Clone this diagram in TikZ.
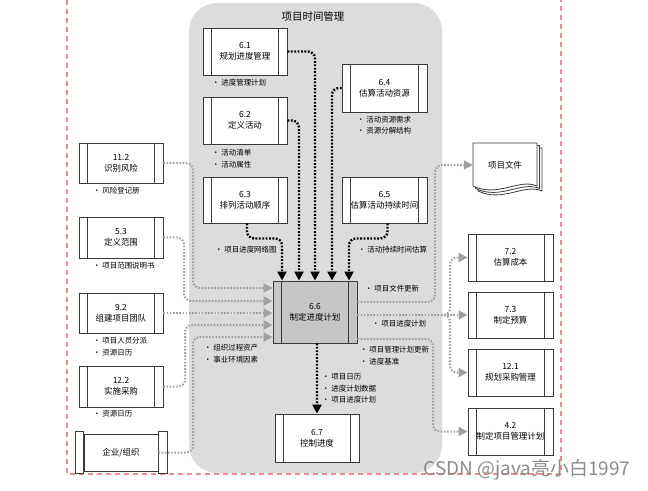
\documentclass[tikz,border=0pt]{standalone}
\usepackage{fontspec}
\newfontfamily\cjk{Noto Sans CJK SC}
\usetikzlibrary{arrows.meta,calc}
\definecolor{boxc}{HTML}{3A3A3A}
\definecolor{panel}{HTML}{DCDCDC}
\definecolor{hub}{HTML}{C6C6C6}
\definecolor{conn}{HTML}{A0A0A0}
\definecolor{frame}{HTML}{F08A8A}
\definecolor{wm}{HTML}{8C8C8C}
\begin{document}
\begin{tikzpicture}[x=1bp,y=-1bp,
  procbox/.style={draw=boxc, line width=0.9bp, fill=white, minimum width=84bp, minimum height=47bp,
    inner sep=0pt, align=center, font=\cjk\fontsize{8.5}{11}\selectfont,
    path picture={\draw[boxc,line width=0.9bp]
      ([xshift=8.5bp]path picture bounding box.north west) -- ([xshift=8.5bp]path picture bounding box.south west)
      ([xshift=-8.5bp]path picture bounding box.north east) -- ([xshift=-8.5bp]path picture bounding box.south east);}},
  lbl/.style={font=\cjk\fontsize{7.5}{11.5}\selectfont, anchor=west, align=left, inner sep=0pt},
  gry/.style={draw=conn, line width=2bp, dash pattern=on 1.6bp off 1.6bp, rounded corners=7bp,
    -{Triangle[length=9bp,width=9bp,fill=conn,color=conn]}},
  blk/.style={draw=black, line width=2.4bp, dash pattern=on 1.8bp off 1.6bp, rounded corners=7bp,
    -{Triangle[length=9bp,width=9bp]}}
]
\useasboundingbox (0,0) rectangle (648,491);
\fill[white] (0,0) rectangle (648,491);
% panel
\fill[panel,rounded corners=28bp] (189,3) rectangle (442,473);
\node[font=\cjk\fontsize{10.5}{12}\selectfont] (title) at (313,17) {项目时间管理};
% frame
\draw[frame, line width=1.3bp, dash pattern=on 5bp off 4bp] (67,0) -- (67,474) -- (561,474) -- (561,0);

% inner processes
\node[procbox] (n61) at (245,51.5) {6.1\\规划进度管理};
\node[procbox] (n62) at (245,120.5) {6.2\\定义活动};
\node[procbox, minimum height=46bp] (n63) at (245,200) {6.3\\排列活动顺序};
\node[procbox, minimum width=85bp, minimum height=48bp] (n64) at (384.5,88) {6.4\\估算活动资源};
\node[procbox, minimum width=85bp, minimum height=46bp] (n65) at (384.5,200) {6.5\\估算活动持续时间};
\node[procbox, fill=hub, minimum height=62bp] (n66) at (315,312) {6.6\\制定进度计划};
\node[procbox, minimum height=48bp] (n67) at (317,438) {6.7\\控制进度};

% left processes
\node[procbox, minimum height=40bp] (n112) at (121,163) {11.2\\识别风险};
\node[procbox, minimum height=41bp] (n53) at (121,237.5) {5.3\\定义范围};
\node[procbox, minimum height=40bp] (n92) at (121,313) {9.2\\组建项目团队};
\node[procbox, minimum height=41bp] (n122) at (121,386.5) {12.2\\实施采购};
% enterprise
\node[draw=boxc, line width=0.9bp, fill=white, minimum width=74bp, minimum height=37bp, inner sep=0pt,
  font=\cjk\fontsize{8.5}{11}\selectfont] (org) at (121,452.5) {企业/组织};
\draw[boxc, line width=0.9bp, fill=white] ($(org.north west)+(-8,-2)$) rectangle ($(org.south west)+(0,2)$);
\draw[boxc, line width=0.9bp, fill=white] ($(org.north east)+(0,-2)$) rectangle ($(org.south east)+(9,2)$);

% right processes
\node[procbox, minimum width=85bp] (n72) at (510.5,257.5) {7.2\\估算成本};
\node[procbox, minimum width=85bp, minimum height=46bp] (n73) at (510.5,315) {7.3\\制定预算};
\node[procbox, minimum width=85bp] (n121) at (510.5,372.5) {12.1\\规划采购管理};
\node[procbox, minimum width=85bp] (n42) at (510.5,431.5) {4.2\\制定项目管理计划};

% documents
\foreach \d in {5,2.5,0}
  \draw[boxc, line width=0.8bp, fill=white] ($(473,143)+(\d,\d)$) -- ++(64,0) -- ++(0,43)
    .. controls +(-18,-8) and +(25,12) .. ++(-64,0) -- cycle;
\node[minimum width=64bp, minimum height=44bp, inner sep=0pt, font=\cjk\fontsize{8.5}{11}\selectfont] (docs) at (505,165) {项目文件};

% black connectors into 6.6
\draw[blk] (n61.east) -| (n66.north);
\draw[blk] (n62.east) -| ([xshift=-16bp]n66.north);
\draw[blk] (n64.west) -| ([xshift=17bp]n66.north);
\draw[blk] ([xshift=2bp]n63.south) -- ++(0,15) -| ([xshift=-33bp]n66.north);
\draw[blk] ([xshift=3bp]n65.south) -- ++(0,15) -| ([xshift=34bp]n66.north);
\draw[blk] ([xshift=2bp]n66.south) -- ([xshift=0bp]n67.north);

% gray inputs
\draw[gry] (n112.east) -| (193,288) -- ([yshift=24bp]n66.west);
\draw[gry] (n53.east) -| (184,301) -- ([yshift=11bp]n66.west);
\draw[gry] (n92.east) -- (n92.east -| n66.west);
\draw[gry] (n122.east) -| (185,325) -- ([yshift=-13bp]n66.west);
\draw[gry] (org.east) -| (193,337) -- ([yshift=-25bp]n66.west);

% gray outputs
\draw[gry] ([yshift=10bp]n66.east) -| (435,165) -- (docs.west);
\draw[gry] (n66.east |- n73.west) -- (n73.west);
\coordinate (jn) at (441,315);
\draw[gry] (jn) -| (450,257.5) -- (n72.west);
\draw[gry] (jn) -| (450,372.5) -- (n121.west);
\draw[gry] ([yshift=-27bp]n66.east) -| (433,431.5) -- (n42.west);

% labels
\node[lbl] (l61) at (212,83) {• 进度管理计划};
\node[lbl] (l62) at (212,158.5) {• 活动清单\\• 活动属性};
\node[lbl] (l64) at (357,125) {• 活动资源需求\\• 资源分解结构};
\node[lbl] (l63) at (215,250) {• 项目进度网络图};
\node[lbl] (l65) at (358,250) {• 活动持续时间估算};
\node[lbl] (l112) at (93,191) {• 风险登记册};
\node[lbl] (l53) at (93,266) {• 项目范围说明书};
\node[lbl] (l92) at (93,346.5) {• 项目人员分派\\• 资源日历};
\node[lbl] (l122) at (93,414) {• 资源日历};
\node[lbl] (lorg) at (204,353.5) {• 组织过程资产\\• 事业环境因素};
\node[lbl] (la) at (365,289) {• 项目文件更新};
\node[lbl] (lb) at (372,324) {• 项目进度计划};
\node[lbl] (lc) at (360,355.5) {• 项目管理计划更新\\• 进度基准};
\node[lbl] (ld) at (322,388.5) {• 项目日历\\• 进度计划数据\\• 项目进度计划};

% watermark
\node[font=\cjk\fontsize{19}{19}\selectfont, text=wm, inner sep=0pt] (wmk) at (527,470) {CSDN @java亮小白1997};
\end{tikzpicture}
\end{document}
